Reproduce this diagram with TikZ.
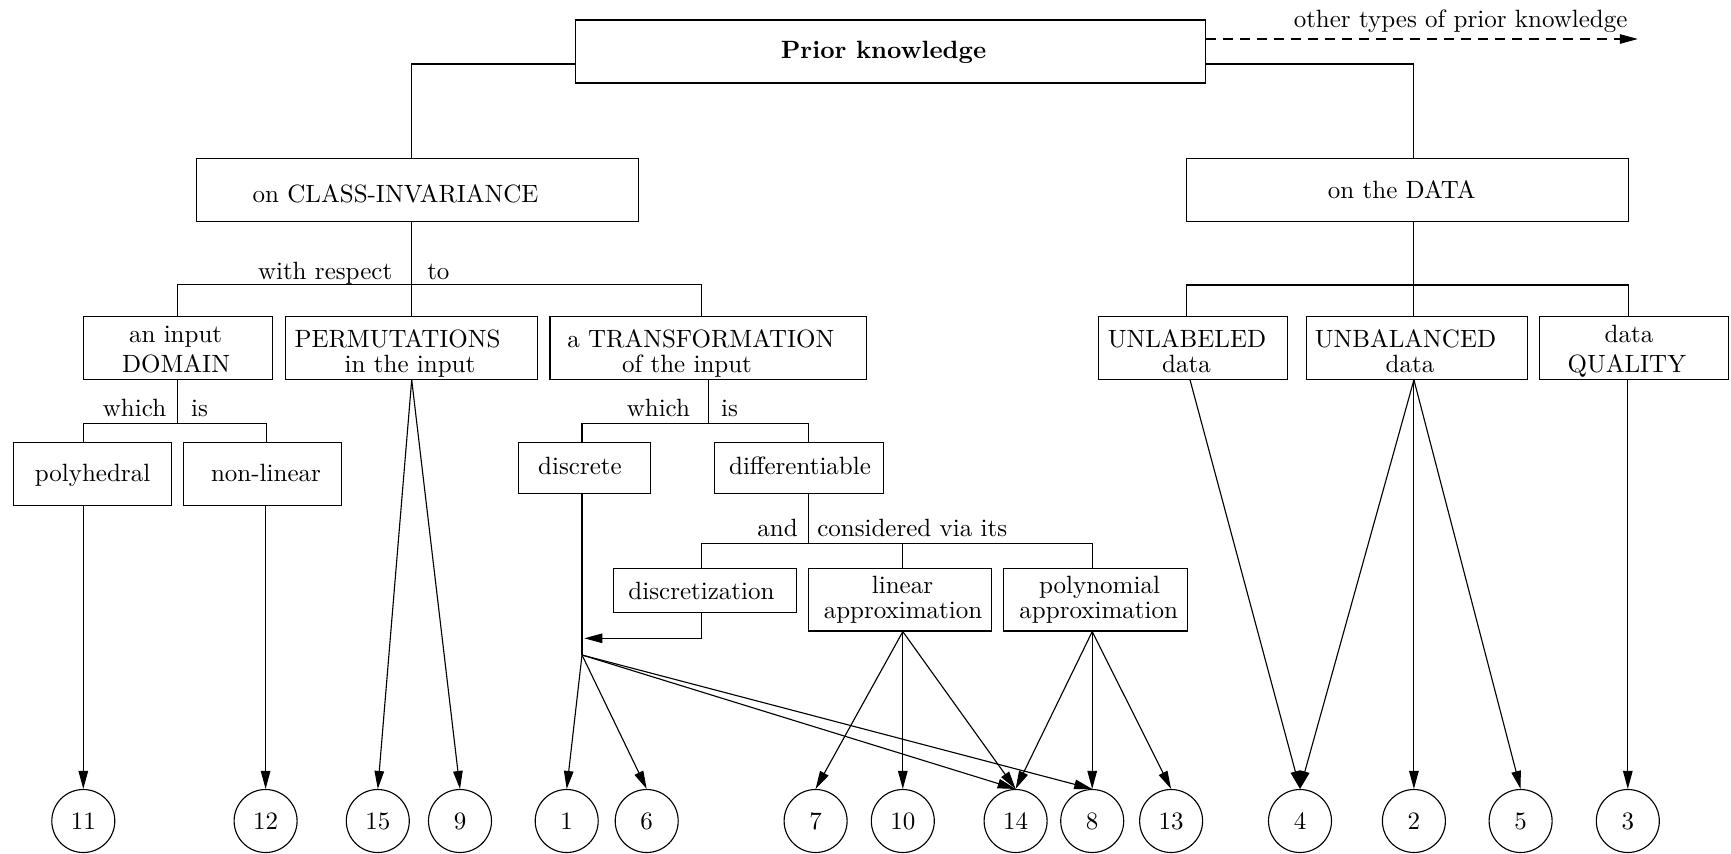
\documentclass[tikz,border=0pt]{standalone}
\usetikzlibrary{arrows.meta}
\begin{document}
\begin{tikzpicture}[x=0.4pt,y=-0.4pt, line width=0.45pt,
  box/.style args={#1/#2}{draw, inner sep=0pt, minimum width=#1*0.4pt, minimum height=#2*0.4pt},
  num/.style={draw, circle, minimum size=63*0.4pt, inner sep=0pt},
  arr/.style={-{Triangle[length=7.2pt,width=3.8pt]}},
  lbl/.style={inner sep=0pt},
  txt/.style={inner sep=0pt, anchor=base}]
\useasboundingbox (0,0) rectangle (1731,853);

% boxes
\node[box=630/63] (prior) at (890.6,51.5) {};
\node[box=442.2/63] (cls) at (417.8,190.2) {};
\node[box=441.6/63] (data) at (1407.5,190.2) {};
\node[box=189.5/62.6] (dom) at (178,348) {};
\node[box=252.2/62.6] (perm) at (411.7,348) {};
\node[box=316.1/62.6] (trans) at (708,348) {};
\node[box=188.9/62.6] (unl) at (1192.8,348) {};
\node[box=220.5/62.6] (unb) at (1417,348) {};
\node[box=188.9/62.6] (qual) at (1633.9,348) {};
\node[box=157.8/63] (poly) at (92.4,474) {};
\node[box=157.8/63] (nonlin) at (262.8,474) {};
\node[box=132.2/51] (disc) at (584.6,467.6) {};
\node[box=169.5/51] (diff) at (799,467.6) {};
\node[box=183.4/44.4] (dz) at (705,590.5) {};
\node[box=182.2/62.7] (lin) at (900,599.7) {};
\node[box=183.4/62.7] (pol) at (1095.5,599.7) {};

% box texts
\node[txt, font=\bfseries] (tprior) at (883.5,58.3) {Prior knowledge};
\node[txt] (tcls) at (395.6,202) {on CLASS-INVARIANCE};
\node[txt] (tdata) at (1401.7,198.3) {on the DATA};
\node[txt] (tdom1) at (175.6,342.3) {an input};
\node[txt] (tdom2) at (176,372.7) {DOMAIN};
\node[txt] (tperm1) at (397.5,347.7) {PERMUTATIONS};
\node[txt] (tperm2) at (410,372.7) {in the input};
\node[txt] (ttr1) at (700.8,347.7) {a TRANSFORMATION};
\node[txt] (ttr2) at (687,372.7) {of the input};
\node[txt] (tunl1) at (1187,347.7) {UNLABELED};
\node[txt] (tunl2) at (1186.5,372.7) {data};
\node[txt] (tunb1) at (1405.5,347.7) {UNBALANCED};
\node[txt] (tunb2) at (1410,372.7) {data};
\node[txt] (tq1) at (1629,342.3) {data};
\node[txt] (tq2) at (1626.8,372.7) {QUALITY};
\node[txt] (tpoly) at (92.5,481.5) {polyhedral};
\node[txt] (tnon) at (266,481.5) {non-linear};
\node[txt] (tdisc) at (580,474) {discrete};
\node[txt] (tdiff) at (800,474) {differentiable};
\node[txt] (tdz) at (701.5,599.3) {discretization};
\node[txt] (tlin1) at (902.5,593.3) {linear};
\node[txt] (tlin2) at (903,618.3) {approximation};
\node[txt] (tpol1) at (1099.5,593.3) {polynomial};
\node[txt] (tpol2) at (1098.7,618.3) {approximation};

% numbered circles
\foreach \n/\x in {11/83.3, 12/265.6, 15/377.8, 9/460, 1/566.7, 6/646.7, 7/815.6, 10/902.8, 14/1015.6, 8/1092.2, 13/1171.1, 4/1300, 2/1413.9, 5/1520.6, 3/1627.8}
  \node[num] (c\n) at (\x,821) {\n};

% labels
\node[lbl, anchor=base east] (other) at (1628,27) {other types of prior knowledge};
\node[lbl, anchor=base east] (wr) at (392.8,279) {with respect};
\node[lbl, anchor=base west] (to) at (426.7,279) {to};
\node[lbl, anchor=base east] (wh1) at (166.7,416.5) {which};
\node[lbl, anchor=base west] (is1) at (190.6,416.5) {is};
\node[lbl, anchor=base east] (wh2) at (690.6,416.5) {which};
\node[lbl, anchor=base west] (is2) at (720.6,416.5) {is};
\node[lbl, anchor=base east] (and) at (798.3,536.7) {and};
\node[lbl, anchor=base west] (cons) at (816.7,536.7) {considered via its};

% coordinates
\coordinate (dashend) at (1637.8,39);
\coordinate (pL) at (411.7,64);
\coordinate (pR) at (1413.9,64);
\coordinate (cJ) at (411.7,284.3);
\coordinate (cB1) at (177.8,284.3);
\coordinate (cB2) at (701.7,284.3);
\coordinate (dJ) at (1413.9,285);
\coordinate (dB1) at (1186.7,285);
\coordinate (dB2) at (1628.3,285);
\coordinate (oJ) at (177.8,423.3);
\coordinate (oB1) at (83.3,423.3);
\coordinate (oB2) at (266.1,423.3);
\coordinate (tJ) at (708.3,423.3);
\coordinate (tB1) at (582,423.3);
\coordinate (tB2) at (808.6,423.3);
\coordinate (J) at (582,655);
\coordinate (fJ) at (808.6,543.3);
\coordinate (fB1) at (701.7,543.3);
\coordinate (fB2) at (1092.2,543.3);
\coordinate (fM) at (902.8,543.3);
\coordinate (dzA) at (584.3,638.3);
\coordinate (uS) at (1190,379.3);

% top level
\draw[arr, dash pattern=on 4pt off 2.8pt] (prior.east |- dashend) -- (dashend);
\draw (prior.west |- pL) -- (pL) -- (pL |- cls.north);
\draw (prior.east |- pR) -- (pR) -- (pR |- data.north);

% class-invariance subtree
\draw (cJ |- cls.south) -- (cJ);
\draw (cB1 |- dom.north) -- (cB1) -- (cB2) -- (cB2 |- trans.north);
\draw (cJ) -- (cJ |- perm.north);

% data subtree
\draw (dJ |- data.south) -- (dJ);
\draw (dB1 |- unl.north) -- (dB1) -- (dB2) -- (dB2 |- qual.north);
\draw (dJ) -- (dJ |- unb.north);

% domain subtree
\draw (oJ |- dom.south) -- (oJ);
\draw (oB1 |- poly.north) -- (oB1) -- (oB2) -- (oB2 |- nonlin.north);
\draw[arr] (c11 |- poly.south) -- (c11.north);
\draw[arr] (c12 |- nonlin.south) -- (c12.north);

% permutations
\draw[arr] (perm.south) -- (c15.north);
\draw[arr] (perm.south) -- (c9.north);

% transformation subtree
\draw (tJ |- trans.south) -- (tJ);
\draw (tB1 |- disc.north) -- (tB1) -- (tB2) -- (tB2 |- diff.north);
\draw (tB1 |- disc.south) -- (J);
\draw[arr] (J) -- (c1.north);
\draw[arr] (J) -- (c6.north);
\draw[arr] (J) -- (c14.north);
\draw[arr] (J) -- (c8.north);

% differentiable subtree
\draw (fJ |- diff.south) -- (fJ);
\draw (fB1 |- dz.north) -- (fB1) -- (fB2) -- (fB2 |- pol.north);
\draw (fM) -- (fM |- lin.north);
\draw[arr] (fB1 |- dz.south) |- (dzA);
\draw[arr] (fM |- lin.south) -- (c7.north);
\draw[arr] (fM |- lin.south) -- (c10.north);
\draw[arr] (fM |- lin.south) -- (c14.north);
\draw[arr] (fB2 |- pol.south) -- (c14.north);
\draw[arr] (fB2 |- pol.south) -- (c8.north);
\draw[arr] (fB2 |- pol.south) -- (c13.north);

% data leaves
\draw[arr] (uS |- unl.south) -- (c4.north);
\draw[arr] (dJ |- unb.south) -- (c4.north);
\draw[arr] (dJ |- unb.south) -- (c2.north);
\draw[arr] (dJ |- unb.south) -- (c5.north);
\draw[arr] (c3 |- qual.south) -- (c3.north);
\end{tikzpicture}
\end{document}
